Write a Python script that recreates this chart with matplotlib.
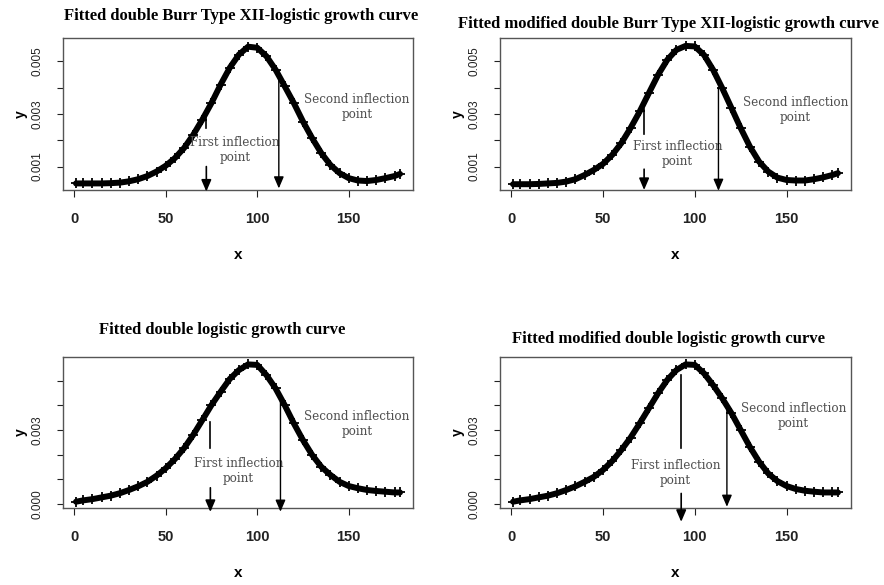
import matplotlib
matplotlib.use("Agg")
import matplotlib.pyplot as plt

# =========================
# dados
# =========================
x = [1, 5, 10, 15, 20, 25, 30, 35, 40, 45, 50, 55, 60, 65, 70, 75, 80, 85, 90,
     95, 100, 105, 110, 115, 120, 125, 130, 135, 140, 145, 150, 155, 160, 165,
     170, 175, 178]

y_burr = [0.00036, 0.00036, 0.00036, 0.00036, 0.00037, 0.00039, 0.00044, 0.00052,
          0.00064, 0.00081, 0.00103, 0.00132, 0.00170, 0.00220, 0.00278, 0.00341,
          0.00411, 0.00475, 0.00525, 0.00555, 0.00551, 0.00519, 0.00468, 0.00405,
          0.00341, 0.00271, 0.00208, 0.00151, 0.00106, 0.00075, 0.00056, 0.00047,
          0.00045, 0.00049, 0.00056, 0.00064, 0.00072]

y_burr_mod = [0.00033, 0.00033, 0.00033, 0.00034, 0.00036, 0.00038, 0.00043, 0.00052,
              0.00068, 0.00087, 0.00110, 0.00144, 0.00189, 0.00246, 0.00309, 0.00379,
              0.00448, 0.00505, 0.00543, 0.00558, 0.00556, 0.00524, 0.00467, 0.00397,
              0.00322, 0.00246, 0.00176, 0.00119, 0.00081, 0.00058, 0.00049, 0.00047,
              0.00047, 0.00052, 0.00059, 0.00068, 0.00075]

y_logis = [0.000095, 0.00015, 0.00020, 0.00027, 0.00034, 0.00044, 0.00057, 0.00072,
           0.00090, 0.00115, 0.00145, 0.00182, 0.00226, 0.00280, 0.00340, 0.00401,
           0.00455, 0.00507, 0.00543, 0.00566, 0.00564, 0.00523, 0.00469, 0.00401,
           0.00327, 0.00259, 0.00199, 0.00151, 0.00118, 0.00090, 0.00073, 0.00064,
           0.00057, 0.00053, 0.00050, 0.00047, 0.00047]

y_logis_mod = [0.000095, 0.00015, 0.00020, 0.00027, 0.00034, 0.00044, 0.00057, 0.00072,
               0.00090, 0.00110, 0.00138, 0.00174, 0.00219, 0.00269, 0.00327, 0.00388,
               0.00449, 0.00503, 0.00543, 0.00566, 0.00564, 0.00530, 0.00482, 0.00428,
               0.00368, 0.00300, 0.00232, 0.00172, 0.00124, 0.00093, 0.00073, 0.00061,
               0.00054, 0.00050, 0.00047, 0.00047, 0.00047]

titulos = [
    "Fitted double Burr Type XII-logistic growth curve",
    "Fitted modified double Burr Type XII-logistic growth curve",
    "Fitted double logistic growth curve",
    "Fitted modified double logistic growth curve",
]

infl1_x = [72.2, 72.4, 74.4, 92.6]
infl2_x = [111.8, 112.9, 112.7, 117.5]

# =========================
# layout (pixels da figura 884x585)
# =========================
W, H = 884, 585
paineis = [
    # caixa (left, top, right, bottom), posicao do titulo, anotacoes
    dict(box=(63, 38, 413, 190), ty=16, tx=241, serie=y_burr, ylim=(0.00011, 0.00588),
         yticks=[0.001, 0.002, 0.003, 0.004, 0.005], ylab=[0.001, 0.003, 0.005],
         seg1=(0.00303, 0.00246), arr1=(0.0010, 0.00005), txt1=(87.8, 0.00163),
         arr2=(0.00468, 0.00017), txt2=(154.5, 0.00326)),
    dict(box=(500, 38, 851, 190), ty=24, tx=668, serie=y_burr_mod, ylim=(0.00011, 0.00588),
         yticks=[0.001, 0.002, 0.003, 0.004, 0.005], ylab=[0.001, 0.003, 0.005],
         seg1=(0.00318, 0.00222), arr1=(0.0009, 0.00011), txt1=(90.7, 0.00146),
         arr2=(0.00398, 0.00008), txt2=(154.9, 0.00316)),
    dict(box=(63, 357, 413, 508), ty=330, tx=222, serie=y_logis, ylim=(-0.00016, 0.00596),
         yticks=[0.0, 0.001, 0.002, 0.003, 0.004, 0.005], ylab=[0.0, 0.003],
         seg1=(0.00334, 0.00226), arr1=(0.00066, -0.00032), txt1=(89.8, 0.00134),
         arr2=(0.00442, -0.00031), txt2=(154.5, 0.00324)),
    dict(box=(500, 357, 851, 508), ty=339, tx=668, serie=y_logis_mod, ylim=(-0.00016, 0.00596),
         yticks=[0.0, 0.001, 0.002, 0.003, 0.004, 0.005], ylab=[0.0, 0.003],
         seg1=(0.00523, 0.00226), arr1=(0.00043, -0.00072), txt1=(89.6, 0.00124),
         arr2=(0.00381, -0.00011), txt2=(153.8, 0.00355)),
]

fonte_num = ["Liberation Sans", "DejaVu Sans"]
fonte_nota = ["DejaVu Serif"]
cinza = "#4f4f4f"
seta = "-|>,head_length=0.7,head_width=0.3"

fig = plt.figure(figsize=(W / 100, H / 100), dpi=100)

for i, p in enumerate(paineis):
    l, t, r, b = p["box"]
    ax = fig.add_axes([l / W, 1 - b / H, (r - l) / W, (b - t) / H])

    # curva ajustada: linha grossa de "+" como no R
    ax.plot(x, p["serie"], color="black", lw=4.3, solid_capstyle="round")
    ax.plot(x, p["serie"], ls="none", marker="+", ms=7.5, mew=1.3, color="black")

    ax.set_xlim(-6.1, 185.1)
    ax.set_ylim(*p["ylim"])

    ax.set_xticks([0, 50, 100, 150])
    ax.set_xticklabels(["0", "50", "100", "150"], fontfamily=fonte_num,
                       fontweight="bold", fontsize=10.5)
    ax.set_yticks(p["yticks"])
    ax.set_yticklabels([f"{v:.3f}" if v in p["ylab"] else "" for v in p["yticks"]],
                       fontfamily=fonte_num, fontsize=8.5, rotation=90, va="center")
    ax.tick_params(axis="x", length=5, width=0.8, pad=11, colors="#222222")
    ax.tick_params(axis="y", length=4, width=0.8, pad=10, colors="#222222")
    for s in ax.spines.values():
        s.set_color("#555555")
        s.set_linewidth(1.0)

    # rotulos dos eixos
    ax.text(0.5, -(65 / (b - t)), "x", transform=ax.transAxes, ha="center",
            va="center", fontfamily=fonte_num, fontweight="bold", fontsize=11)
    ax.text(-42 / (r - l), 0.5, "y", transform=ax.transAxes, ha="center",
            va="center", rotation=90, fontfamily=fonte_num, fontweight="bold",
            fontsize=10)

    # titulo
    fig.text(p["tx"] / W, 1 - p["ty"] / H, titulos[i], ha="center", va="center",
             fontfamily="Liberation Serif", fontweight="bold", fontsize=12)

    # primeira inflexao: traco curto + seta
    x1 = infl1_x[i]
    ax.plot([x1, x1], p["seg1"], color="black", lw=1.2)
    ax.annotate("", xy=(x1, p["arr1"][1]), xytext=(x1, p["arr1"][0]),
                annotation_clip=False,
                arrowprops=dict(arrowstyle=seta, color="black", lw=1.2,
                                mutation_scale=10, shrinkA=0, shrinkB=0,
                                clip_on=False))
    ax.text(*p["txt1"], "First inflection\npoint", ha="center", va="center",
            fontfamily=fonte_nota, fontsize=8.6, color=cinza, linespacing=1.2)

    # segunda inflexao: linha longa com seta
    x2 = infl2_x[i]
    ax.annotate("", xy=(x2, p["arr2"][1]), xytext=(x2, p["arr2"][0]),
                annotation_clip=False,
                arrowprops=dict(arrowstyle=seta, color="black", lw=1.0,
                                mutation_scale=10, shrinkA=0, shrinkB=0,
                                clip_on=False))
    ax.text(*p["txt2"], "Second inflection\npoint", ha="center", va="center",
            fontfamily=fonte_nota, fontsize=8.6, color=cinza, linespacing=1.2)

fig.savefig("out.png", dpi=100)
